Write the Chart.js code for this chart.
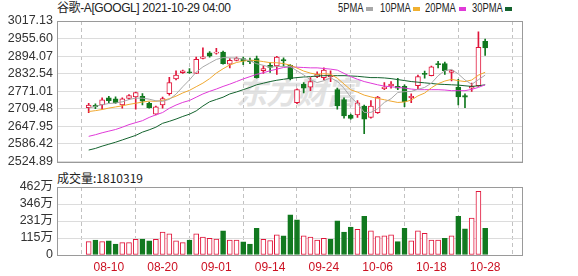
<!DOCTYPE html>
<html>
<head>
<meta charset="utf-8">
<script src="https://cdn.jsdelivr.net/npm/chart.js@4.4.1/dist/chart.umd.min.js"></script>
<style>
  body { margin: 0; background: #fff; width: 578px; height: 276px; overflow: hidden; position: relative;
         font-family: "Liberation Sans", "Noto Sans CJK SC", sans-serif; color: #222; }
  .txt { position: absolute; white-space: nowrap; font-size: 12px; line-height: 16px; }
  .lg { font-size: 12px; transform: scaleX(0.78); transform-origin: 0 0; }
  .sw { position: absolute; width: 7px; height: 4px; }
  #wm { position: absolute; left: 236px; top: 68px; font: italic bold 31px "Noto Sans CJK SC", sans-serif;
        color: #e2e2e2; letter-spacing: -1px; }
  canvas { position: absolute; left: 0; }
  #price { top: 0; }
  #vol { top: 170px; }
</style>
</head>
<body>
<div id="wm">东方财富</div>
<div class="txt" style="left:57px;top:0px;letter-spacing:-0.4px">谷歌-A[GOOGL] 2021-10-29 04:00</div>
<div class="txt lg" style="left:338px;top:0px">5PMA</div>
<div class="sw" style="left:366px;top:7px;background:#a8a8a8"></div>
<div class="txt lg" style="left:380px;top:0px">10PMA</div>
<div class="sw" style="left:413px;top:7px;background:#f0b030"></div>
<div class="txt lg" style="left:425px;top:0px">20PMA</div>
<div class="sw" style="left:459px;top:7px;background:#e03ad8"></div>
<div class="txt lg" style="left:472px;top:0px">30PMA</div>
<div class="sw" style="left:505px;top:7px;background:#14632e"></div>
<div class="txt" style="left:57px;top:170px;font-family:'Noto Sans CJK SC',sans-serif">成交量:1810319</div>

<canvas id="price" width="578" height="173"></canvas>
<canvas id="vol" width="578" height="106"></canvas>

<script>
// 交易日 (08-05 .. 10-28)
const dates = ['08-05','08-06','08-09','08-10','08-11','08-12','08-13','08-16','08-17','08-18',
  '08-19','08-20','08-23','08-24','08-25','08-26','08-27','08-30','08-31','09-01',
  '09-02','09-03','09-07','09-08','09-09','09-10','09-13','09-14','09-15','09-16',
  '09-17','09-20','09-21','09-22','09-23','09-24','09-27','09-28','09-29','09-30',
  '10-01','10-04','10-05','10-06','10-07','10-08','10-11','10-12','10-13','10-14',
  '10-15','10-18','10-19','10-20','10-21','10-22','10-25','10-26','10-27','10-28'];

// K线
const opens = [2713.6,2721.6,2722.7,2747.9,2744.4,2722.7,2745.6,2751.3,2753.6,2728.4,
  2690.7,2722.7,2762.7,2814.2,2835.9,2839.4,2833.6,2886.0,2905.7,2904.5,
  2907.9,2865.6,2879.4,2885.1,2880.0,2885.1,2842.8,2862.2,2859.9,2881.7,
  2862.2,2730.7,2795.9,2785.6,2822.2,2818.8,2822.2,2776.5,2742.2,2687.3,
  2688.4,2719.3,2679.3,2696.4,2779.9,2790.2,2787.9,2787.9,2747.9,2790.2,
  2833.6,2825.6,2867.9,2867.9,2837.1,2785.6,2755.9,2782.2,2790.2,2945.7];
const highs = [2728.4,2727.3,2747.9,2753.6,2751.3,2747.9,2759.3,2768.5,2762.7,2733.0,
  2719.3,2750.2,2819.9,2842.8,2845.1,2850.8,2890.8,2922.8,2910.2,2921.7,
  2911.4,2885.1,2890.8,2890.8,2887.4,2894.2,2859.9,2870.2,2893.1,2888.5,
  2864.5,2779.9,2801.6,2818.8,2839.4,2853.1,2842.8,2782.2,2747.9,2690.7,
  2738.7,2722.7,2738.7,2753.6,2801.6,2805.0,2816.5,2793.6,2761.6,2827.9,
  2841.6,2858.8,2875.9,2873.6,2845.1,2813.1,2761.6,2799.3,2978.8,2953.7];
const lows = [2696.4,2710.1,2707.9,2730.7,2728.4,2711.3,2742.2,2707.9,2722.7,2711.3,
  2688.4,2711.3,2757.0,2810.8,2833.6,2833.6,2833.6,2884.0,2890.8,2901.1,
  2865.6,2853.1,2877.1,2864.5,2867.9,2816.5,2833.6,2837.1,2830.2,2858.8,
  2810.8,2727.3,2765.0,2773.0,2818.8,2810.8,2805.0,2707.9,2677.0,2673.6,
  2679.3,2622.1,2677.0,2693.0,2776.5,2782.2,2776.5,2717.0,2730.7,2779.9,
  2816.5,2824.5,2853.1,2830.2,2807.3,2722.7,2713.6,2770.7,2787.9,2896.5];
const closes = [2722.7,2715.9,2741.0,2738.0,2730.7,2744.4,2755.9,2766.2,2736.4,2713.6,
  2716.0,2745.6,2801.6,2827.9,2842.8,2835.9,2882.8,2892.0,2894.0,2907.9,
  2867.9,2879.4,2887.4,2877.1,2875.0,2818.8,2850.8,2854.2,2890.8,2877.1,
  2814.2,2776.5,2782.2,2805.0,2830.2,2845.1,2827.9,2719.3,2685.0,2675.9,
  2730.7,2673.6,2719.3,2750.2,2785.6,2795.9,2782.2,2734.1,2753.6,2822.2,
  2830.2,2856.5,2864.5,2842.8,2843.5,2751.3,2750.2,2787.9,2925.1,2922.8];

// 均线
const ma5 = [2712,2718,2724,2728,2729.7,2734.0,2742.0,2747.0,2746.7,2743.3,
  2737.6,2735.6,2742.6,2760.9,2786.8,2810.8,2838.2,2856.3,2869.5,2882.5,
  2888.9,2888.0,2887.3,2883.9,2877.4,2867.5,2861.8,2855.2,2857.9,2858.3,
  2857.4,2842.6,2828.2,2811.0,2801.6,2807.8,2818.1,2805.5,2781.5,2750.6,
  2727.8,2696.9,2696.9,2709.9,2731.9,2744.9,2766.6,2769.6,2770.3,2777.6,
  2784.5,2799.3,2825.4,2843.2,2847.5,2831.7,2810.5,2795.1,2811.6,2827.5];
const ma10 = [2700,2703,2707,2712,2716,2720,2725,2729,2733,2736.5,
  2735.8,2738.8,2744.8,2753.8,2765.0,2774.2,2786.9,2799.5,2815.2,2834.7,
  2849.8,2863.1,2871.7,2876.6,2879.8,2878.1,2874.9,2871.2,2870.8,2867.9,
  2862.5,2852.2,2841.7,2834.5,2830.0,2832.6,2830.3,2816.8,2796.3,2776.1,
  2767.8,2757.5,2751.2,2745.7,2741.3,2736.3,2731.8,2733.3,2740.1,2754.7,
  2764.7,2783.0,2797.5,2806.8,2812.6,2808.1,2804.9,2810.3,2827.5,2837.5];
const ma20 = [2613.0,2618.7,2625.5,2631.3,2637.0,2645.0,2654.1,2661.0,2667.9,2679.3,
  2688.4,2696.4,2711.3,2722.7,2731.9,2738.7,2750.2,2761.6,2770.7,2778.7,
  2787.9,2795.9,2805.0,2814.2,2822.2,2830.2,2835.9,2842.8,2848.5,2854.2,
  2856.5,2855.3,2854.2,2853.0,2853.0,2850.8,2848.5,2845.1,2833.6,2822.2,
  2813.0,2805.0,2799.3,2793.6,2789.0,2786.7,2784.5,2782.2,2778.7,2776.5,
  2776.5,2776.5,2776.5,2775.3,2773.0,2773.0,2773.0,2777.6,2784.5,2793.6];
const ma30 = [2565.0,2570.7,2578.7,2585.5,2592.4,2600.4,2608.4,2616.4,2627.8,2635.8,
  2645.0,2658.7,2665.6,2673.6,2682.7,2690.7,2702.1,2719.3,2734.2,2742.2,
  2750.2,2761.6,2768.5,2776.5,2784.5,2793.6,2799.3,2805.0,2809.6,2813.0,
  2816.5,2818.8,2821.0,2822.2,2824.5,2825.6,2825.6,2825.6,2825.6,2824.5,
  2823.3,2821.0,2818.8,2818.8,2817.6,2815.3,2811.9,2808.5,2805.0,2802.8,
  2800.5,2798.2,2795.9,2794.8,2793.6,2792.5,2790.2,2787.9,2790.2,2793.6];

// 成交量 (万)
const volumes = [91,102,91,96,75,84,84,107,109,96,
  107,155,143,96,84,102,143,121,114,109,
  164,102,102,89,75,182,107,98,137,130,
  273,239,130,121,102,114,109,232,155,189,
  175,262,164,125,130,137,91,182,96,164,
  148,102,102,114,130,262,178,250,432,181];

// 刻度
const priceTicks = [2524.89,2586.42,2647.95,2709.48,2771.01,2832.54,2894.07,2955.60,3017.13];
const volTicks = [0,115.5,231,346.5,462];
const volTickLabels = ['0','115万','231万','346万','462万'];
const xTickIdx = [3,11,19,27,35,43,51,59];

const RED = '#e0153a', GREEN = '#11791f';
const X_MIN = -0.39, X_MAX = 60.16;

Chart.defaults.font.family = '"Liberation Sans", "Noto Sans CJK SC", sans-serif';
Chart.defaults.animation = false;

const isUp = closes.map((c, i) => c >= opens[i]);
const volUp = closes.map((c, i) => c >= (i ? closes[i - 1] : opens[i]));
const pts = arr => arr.map((v, i) => ({ x: i, y: v }));

// 外框
const frame = {
    id: 'frame',
    beforeDatasetsDraw(chart) {
        const { ctx, chartArea: a } = chart;
        ctx.save();
        ctx.strokeStyle = '#9a9a9a';
        ctx.lineWidth = 1;
        const l = Math.round(a.left) + 0.5, t = Math.round(a.top) + 0.5;
        ctx.strokeRect(l, t, Math.round(a.right) - Math.round(a.left), Math.round(a.bottom) - Math.round(a.top));
        ctx.restore();
    }
};

function xScale(showLabels) {
    return {
        type: 'linear', min: X_MIN, max: X_MAX,
        afterBuildTicks: s => { s.ticks = xTickIdx.map(v => ({ value: v })); },
        afterFit: s => { s.height = showLabels ? 21 : 0; },
        grid: { color: '#c2c2c2', drawTicks: false },
        border: { display: false, dash: [4, 3] },
        ticks: {
            display: showLabels, autoSkip: false, maxRotation: 0, padding: 5,
            color: '#cc1122', font: { size: 12 },
            callback: v => dates[v]
        }
    };
}

function lineSet(data, color) {
    return { type: 'line', data: pts(data), borderColor: color, borderWidth: 1,
             pointRadius: 0, tension: 0, fill: false };
}

new Chart(document.getElementById('price'), {
    type: 'bar',
    data: {
        datasets: [
            lineSet(ma5, '#a8a8a8'),
            lineSet(ma10, '#f0a830'),
            lineSet(ma20, '#e03ad8'),
            lineSet(ma30, '#14632e'),
            {
                data: opens.map((o, i) => ({ x: i, y: [o, closes[i]] })),
                backgroundColor: isUp.map(u => u ? '#ffffff' : GREEN),
                borderColor: isUp.map(u => u ? RED : GREEN),
                borderWidth: 1, borderSkipped: false, barThickness: 5,
                minBarLength: 1, grouped: false
            },
            {
                data: lows.map((l, i) => ({ x: i, y: [l, highs[i]] })),
                backgroundColor: isUp.map(u => u ? RED : GREEN),
                borderWidth: 0, barThickness: 1, grouped: false
            }
        ]
    },
    options: {
        responsive: false,
        layout: { padding: { top: 21, right: 56, bottom: 8, left: 0 } },
        plugins: { legend: { display: false }, tooltip: { enabled: false } },
        scales: {
            x: xScale(false),
            y: {
                min: 2524.89, max: 3017.13,
                afterBuildTicks: s => { s.ticks = priceTicks.map(v => ({ value: v })); },
                afterFit: s => { s.width = 57; },
                grid: { color: '#dcdcdc', drawTicks: false },
                border: { display: false },
                ticks: { autoSkip: false, padding: 4, color: '#333', font: { size: 12.5 },
                         callback: v => v.toFixed(2) }
            }
        }
    },
    plugins: [frame]
});

new Chart(document.getElementById('vol'), {
    type: 'bar',
    data: {
        datasets: [{
            data: pts(volumes),
            backgroundColor: volUp.map(u => u ? '#ffffff' : GREEN),
            borderColor: volUp.map(u => u ? RED : GREEN),
            borderWidth: 1, borderSkipped: false, barThickness: 5
        }]
    },
    options: {
        responsive: false,
        layout: { padding: { top: 17, right: 56, bottom: 0, left: 0 } },
        plugins: { legend: { display: false }, tooltip: { enabled: false } },
        scales: {
            x: xScale(true),
            y: {
                min: 0, max: 462,
                afterBuildTicks: s => { s.ticks = volTicks.map(v => ({ value: v })); },
                afterFit: s => { s.width = 57; },
                grid: { color: '#dcdcdc', drawTicks: false },
                border: { display: false },
                ticks: { autoSkip: false, padding: 4, color: '#333', font: { size: 12.5 },
                         callback: (v, i) => volTickLabels[i] }
            }
        }
    },
    plugins: [frame]
});
</script>
</body>
</html>
